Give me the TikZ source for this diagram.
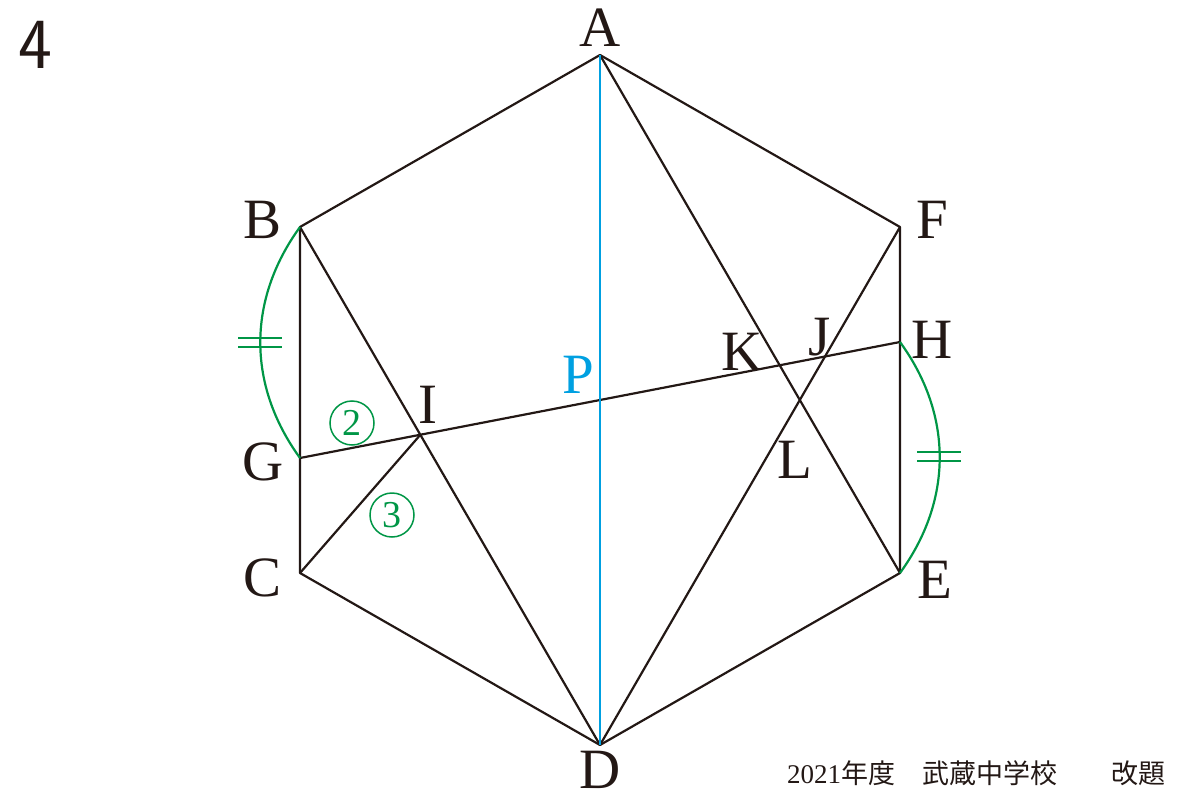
\documentclass[tikz,border=0pt]{standalone}
\usepackage{fontspec}
\setmainfont{Liberation Serif}
\newfontfamily\cjk{Noto Sans CJK JP}
\definecolor{linegreen}{RGB}{0,150,70}
\definecolor{lineblue}{RGB}{0,160,225}
\definecolor{ink}{RGB}{35,24,21}

\begin{document}
\begin{tikzpicture}[x=1pt,y=-1pt,
  every node/.style={inner sep=0pt, outer sep=0pt},
  lbl/.style={font=\fontsize{57}{57}\selectfont, text=ink},
  edge/.style={draw=ink, line width=2.2pt, line join=round},
  eqline/.style={draw=linegreen, line width=2.2pt},
  num/.style={circle, draw=linegreen, line width=1.5pt, minimum size=44pt, text=linegreen, font=\fontsize{38}{38}\selectfont}]
\useasboundingbox (0,0) rectangle (1200,800);

% vertices of the hexagon
\coordinate (A) at (600,55);
\coordinate (B) at (300,227);
\coordinate (C) at (300,573);
\coordinate (D) at (600,745);
\coordinate (E) at (900,573);
\coordinate (F) at (900,227);
\coordinate (G) at (300,458);
\coordinate (H) at (900,342);
\coordinate (I) at (intersection of G--H and B--D);

% hexagon and diagonals
\draw[edge] (A) -- (B) -- (C) -- (D) -- (E) -- (F) -- cycle;
\draw[edge] (B) -- (D);
\draw[edge] (A) -- (E);
\draw[edge] (F) -- (D);
\draw[edge] (G) -- (H);
\draw[edge] (C) -- (I);
\draw[draw=lineblue, line width=2.2pt] (A) -- (D);

% equal lengths
\draw[eqline] (B) to[bend right=36] (G);
\draw[eqline] (H) to[bend left=36] (E);
\draw[eqline] (238,338) -- (282,338);
\draw[eqline] (238,347) -- (282,347);
\draw[eqline] (917,452) -- (961,452);
\draw[eqline] (917,461) -- (961,461);

% labels
\node[lbl] (la) at (600,28) {A};
\node[lbl] (lb) at (263,220) {B};
\node[lbl] (lc) at (263,578) {C};
\node[lbl] (ld) at (600,770) {D};
\node[lbl] (le) at (935,580) {E};
\node[lbl] (lf) at (932,220) {F};
\node[lbl] (lg) at (263,462) {G};
\node[lbl] (lh) at (932,340) {H};
\node[lbl] (li) at (428,405) {I};
\node[lbl] (lj) at (820,337) {J};
\node[lbl] (lk) at (742,352) {K};
\node[lbl] (ll) at (795,460) {L};
\node[lbl, text=lineblue] (lp) at (578,375) {P};

\node[num] (two) at (352,423) {2};
\node[num] (three) at (392,515) {3};

\node[font=\sffamily\fontsize{72}{72}\selectfont, text=ink] (title) at (35,45) {4};
\node[font=\fontsize{27}{27}\selectfont, text=ink] (src) at (976,773) {2021{\cjk 年度　武蔵中学校　　改題}};
\end{tikzpicture}
\end{document}
